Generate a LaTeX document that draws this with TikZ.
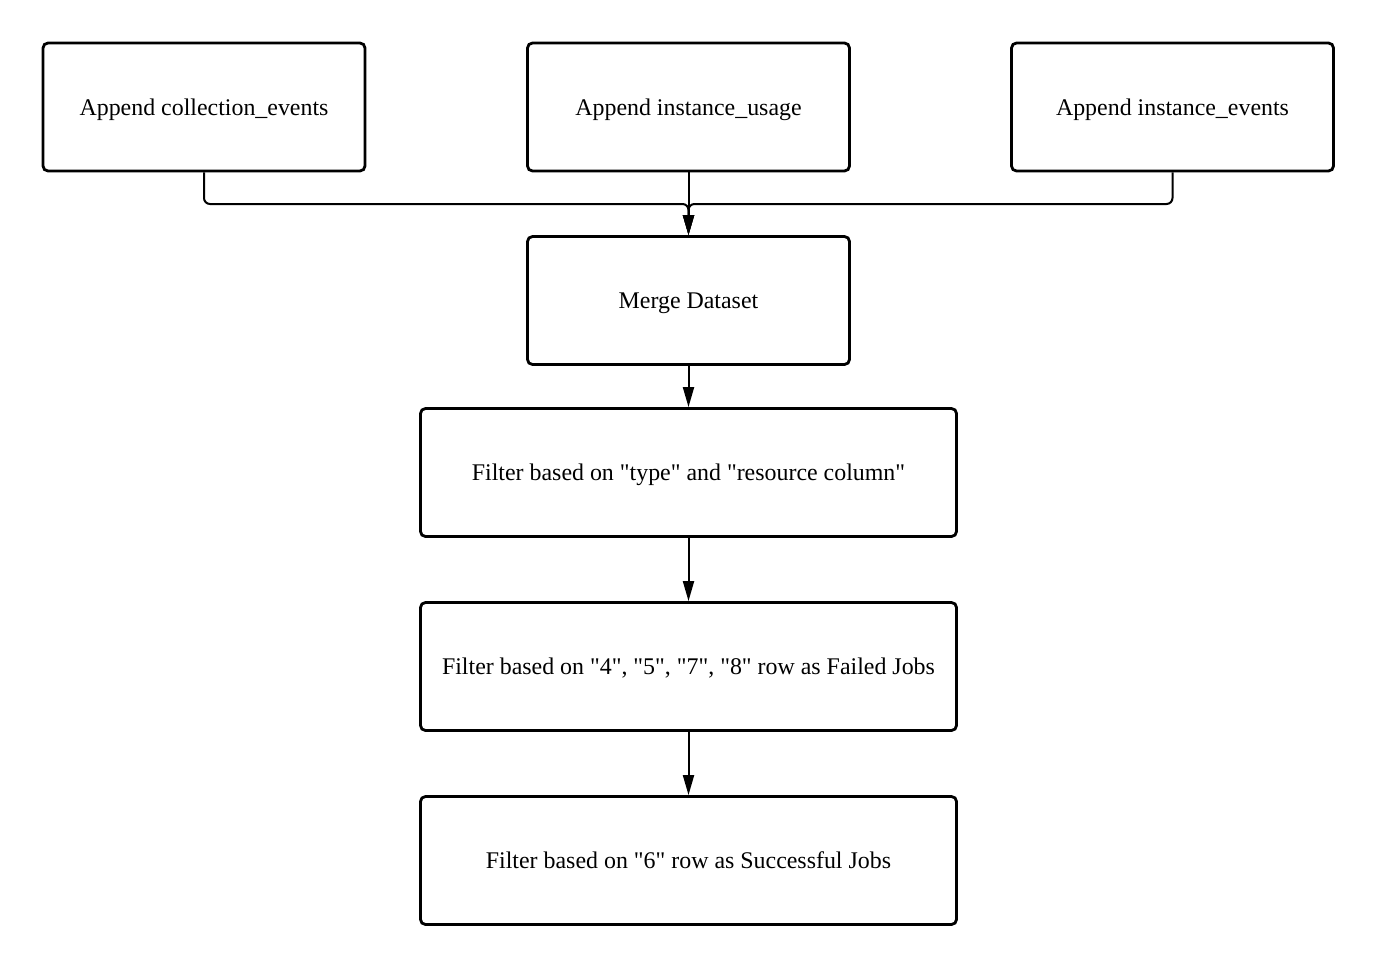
\documentclass[tikz,border=0pt]{standalone}
\usepackage{fontspec}
\setmainfont{Liberation Serif}[Ligatures=TeXOff]
\usetikzlibrary{arrows.meta}
\begin{document}
\begin{tikzpicture}[x=1pt,y=1pt,
  box/.style={draw, line width=2.8pt, rounded corners=5pt, inner sep=0pt,
    minimum height=128pt, text depth=0pt, font=\fontsize{23.9}{28}\selectfont},
  conn/.style={line width=2pt, rounded corners=6pt,
    -{Triangle[width=11pt,length=20pt]}}]
\useasboundingbox (0,0) rectangle (1377,-969);
\node[box, minimum width=322pt] (a1) at (204,-107) {Append collection\_events};
\node[box, minimum width=322pt] (a2) at (688.5,-107) {Append instance\_usage};
\node[box, minimum width=322pt] (a3) at (1172.5,-107) {Append instance\_events};
\node[box, minimum width=322pt] (m) at (688.5,-300.5) {Merge Dataset};
\node[box, minimum width=536pt] (f1) at (688.5,-472.5) {Filter based on "type" and "resource column"};
\node[box, minimum width=536pt] (f2) at (688.5,-666.5) {Filter based on "4", "5", "7", "8" row as Failed Jobs};
\node[box, minimum width=536pt] (f3) at (688.5,-860.5) {Filter based on "6" row as Successful Jobs};
\coordinate (jl) at (688.5,-204);
\draw[conn] (a1.south) |- (jl) -- (m.north);
\draw[conn] (a3.south) |- (jl) -- (m.north);
\draw[conn] (a2.south) -- (m.north);
\draw[conn] (m.south) -- (f1.north);
\draw[conn] (f1.south) -- (f2.north);
\draw[conn] (f2.south) -- (f3.north);
\end{tikzpicture}
\end{document}
